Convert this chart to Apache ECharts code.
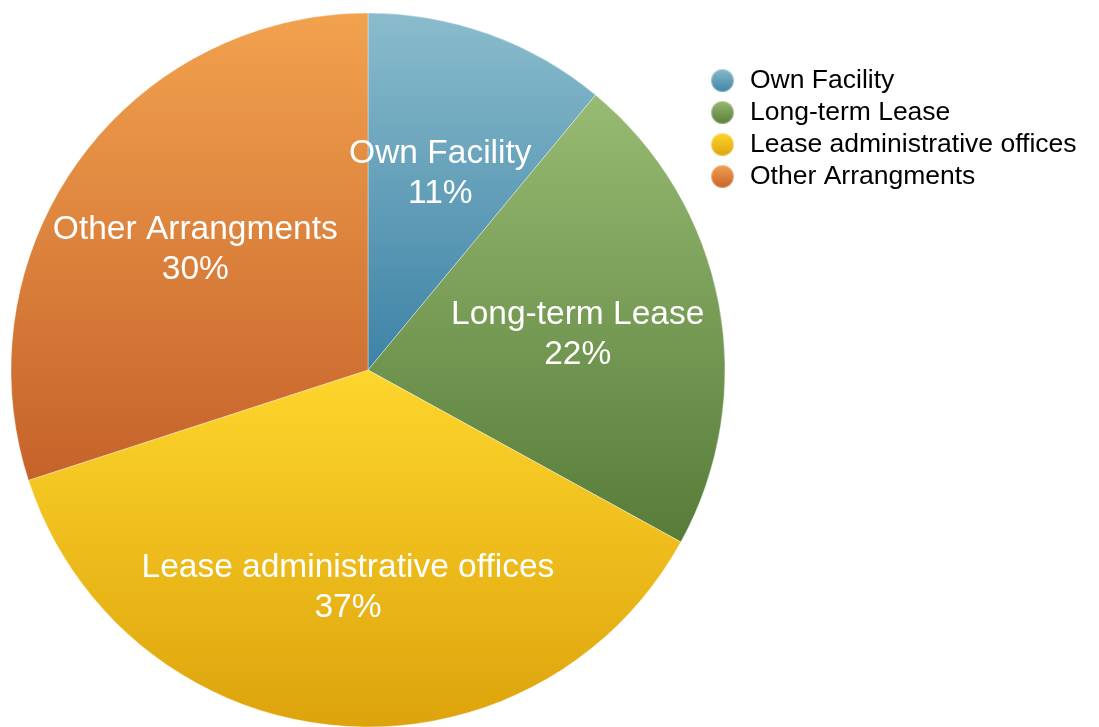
<!DOCTYPE html>
<html style="height: 100%">
<head>
  <meta charset="utf-8">
  <script src="https://cdn.jsdelivr.net/npm/echarts@6/dist/echarts.min.js"></script>
  <style type="text/css">
    * { margin: 0; padding: 0; }
  </style>
</head>
<body style="height: 100%; margin: 0; background: #fff">
  <div id="container" style="width: 1099px; height: 727px"></div>
  <script type="text/javascript">
    var categories = ['Own Facility', 'Long-term Lease', 'Lease administrative offices', 'Other Arrangments'];
    var values = [11, 22, 37, 30];
    // top / bottom colour of each slice's vertical gradient
    var topColors = ['#8abccc', '#97bb72', '#fed62c', '#f2a24f'];
    var bottomColors = ['#3d82a6', '#577c39', '#dda30c', '#c5622a'];

    var font = '"Liberation Sans", Helvetica, Arial, sans-serif';

    function grad(i) {
      return new echarts.graphic.LinearGradient(0, 0, 0, 1, [
        { offset: 0, color: topColors[i] },
        { offset: 1, color: bottomColors[i] }
      ]);
    }

    var pieData = categories.map(function (name, i) {
      return { name: name, value: values[i], itemStyle: { color: grad(i) } };
    });
    var labelData = categories.map(function (name, i) {
      return { name: name, value: values[i] };
    });

    var myChart = echarts.init(document.getElementById('container'));
    var option = {
      animation: false,
      legend: {
        orient: 'vertical',
        left: 710,
        top: 67,
        padding: 0,
        icon: 'circle',
        itemWidth: 23,
        itemHeight: 23,
        itemGap: 5,
        data: categories,
        textStyle: { fontFamily: font, fontSize: 26.5, color: '#000', padding: [0, 0, 0, 11] }
      },
      series: [
        {
          type: 'pie',
          center: [368, 370],
          radius: 357,
          startAngle: 90,
          clockwise: true,
          label: { show: false },
          labelLine: { show: false },
          itemStyle: { borderColor: 'rgba(255,255,255,0.35)', borderWidth: 1 },
          emphasis: { disabled: true },
          data: pieData
        },
        {
          // transparent ring that only carries the slice labels
          type: 'pie',
          center: [368, 370],
          radius: [64, 357],
          startAngle: 90,
          clockwise: true,
          silent: true,
          legendHoverLink: false,
          itemStyle: { color: 'rgba(0,0,0,0)' },
          label: {
            show: true,
            position: 'inside',
            formatter: '{b}\n{d}%',
            color: '#fff',
            fontFamily: font,
            fontSize: 33.5,
            lineHeight: 40,
            offset: [0, 5]
          },
          labelLine: { show: false },
          emphasis: { disabled: true },
          data: labelData
        }
      ]
    };
    myChart.setOption(option, true);
  </script>
</body>
</html>
